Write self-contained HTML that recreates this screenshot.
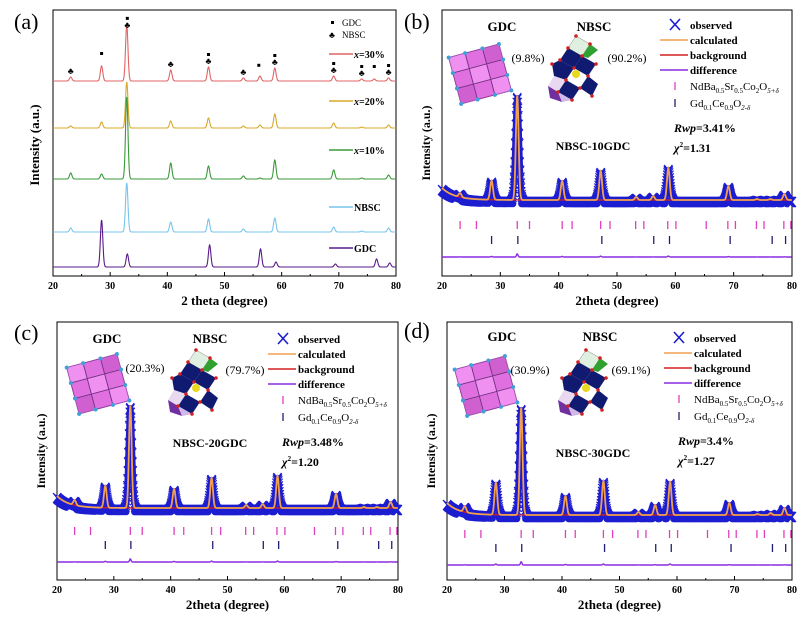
<!DOCTYPE html>
<html><head><meta charset="utf-8">
<style>
html,body{margin:0;padding:0;background:#fff;}
svg{display:block;font-family:"Liberation Serif",serif;}
.b{font-weight:bold;}
</style></head>
<body>
<svg id="fig" width="800" height="624" viewBox="0 0 800 624" xmlns="http://www.w3.org/2000/svg">
<defs>
<g id="gdc-struct">
  <g transform="rotate(-15 28 26)">
    <rect x="2" y="2" width="52" height="48" fill="#e070e0" stroke="#9040a0" stroke-width="1"/>
    <rect x="2" y="2" width="17" height="16" fill="#f090f0" stroke="#a050b0" stroke-width="0.8"/>
    <rect x="19" y="18" width="18" height="16" fill="#f090f0" stroke="#a050b0" stroke-width="0.8"/>
    <rect x="37" y="2" width="17" height="16" fill="#d060d0" stroke="#a050b0" stroke-width="0.8"/>
    <rect x="2" y="34" width="17" height="16" fill="#d060d0" stroke="#a050b0" stroke-width="0.8"/>
    <rect x="37" y="34" width="17" height="16" fill="#f090f0" stroke="#a050b0" stroke-width="0.8"/>
    <line x1="19" y1="2" x2="19" y2="50" stroke="#703080" stroke-width="0.8"/>
    <line x1="37" y1="2" x2="37" y2="50" stroke="#703080" stroke-width="0.8"/>
    <line x1="2" y1="18" x2="54" y2="18" stroke="#703080" stroke-width="0.8"/>
    <line x1="2" y1="34" x2="54" y2="34" stroke="#703080" stroke-width="0.8"/>
    <g fill="#40a0d8">
      <circle cx="2" cy="2" r="2"/><circle cx="19" cy="2" r="2"/><circle cx="37" cy="2" r="2"/><circle cx="54" cy="2" r="2"/>
      <circle cx="2" cy="18" r="2"/><circle cx="54" cy="18" r="2"/><circle cx="2" cy="34" r="2"/><circle cx="54" cy="34" r="2"/>
      <circle cx="2" cy="50" r="2"/><circle cx="19" cy="50" r="2"/><circle cx="37" cy="50" r="2"/><circle cx="54" cy="50" r="2"/>
    </g>
  </g>
</g>
<g id="nbsc-struct">
  <polygon points="28,0 42,8 34,20 20,12" fill="#e0f0e0" stroke="#888" stroke-width="0.5"/>
  <polygon points="42,8 50,14 40,22 34,20" fill="#30a030"/>
  <polygon points="20,12 34,20 26,32 12,24" fill="#101a70"/>
  <polygon points="34,20 48,28 40,40 26,32" fill="#101a70"/>
  <polygon points="4,28 12,24 26,32 18,44 6,40" fill="#101a70"/>
  <polygon points="18,44 32,52 24,64 10,56" fill="#101a70"/>
  <polygon points="32,52 40,40 50,48 44,60" fill="#101a70"/>
  <polygon points="6,40 18,44 10,56 0,50" fill="#e8d8f0"/>
  <polygon points="0,50 10,56 14,66 2,62" fill="#7030a0"/>
  <polygon points="10,56 24,64 14,66" fill="#d0b8e8"/>
  <circle cx="28" cy="38" r="4" fill="#e8d820"/>
  <g fill="#d02020"><circle cx="20" cy="12" r="1.8"/><circle cx="34" cy="20" r="1.8"/><circle cx="26" cy="32" r="1.8"/><circle cx="12" cy="24" r="1.8"/><circle cx="48" cy="28" r="1.8"/><circle cx="40" cy="40" r="1.8"/><circle cx="18" cy="44" r="1.8"/><circle cx="32" cy="52" r="1.8"/><circle cx="10" cy="56" r="1.8"/><circle cx="24" cy="64" r="1.8"/><circle cx="44" cy="60" r="1.8"/><circle cx="4" cy="28" r="1.8"/><circle cx="42" cy="8" r="1.8"/><circle cx="28" cy="0" r="1.8"/></g>
</g>
</defs>
</svg>
<script>
// ---------- DATA ----------
const aPeaks30 = [23.1, 28.5, 32.9, 40.6, 47.2, 53.3, 56.2, 58.8, 69.1, 74.0, 76.2, 78.7];
const aHeights30 = [4, 15, 56, 11, 14, 3, 5, 13, 5, 2, 2, 3];
const aPeaks20 = [23.1, 28.5, 32.9, 40.6, 47.2, 53.3, 56.2, 58.8, 69.1, 74.0, 78.7];
const aHeights20 = [2, 6, 46, 7, 10, 2, 3, 14, 5, 1, 3];
const aPeaks10 = [23.1, 28.5, 32.9, 40.6, 47.2, 53.3, 56.2, 58.8, 69.1, 74.0, 78.7];
const aHeights10 = [6, 5, 82, 16, 13, 3, 1, 19, 9, 1, 4];
const aPeaksNBSC = [23.1, 32.9, 40.6, 47.2, 53.3, 58.8, 69.1, 74.0, 78.7];
const aHeightsNBSC = [4, 49, 10, 13, 3, 14, 5, 1, 4];
const aPeaksGDC = [28.5, 33.0, 47.4, 56.3, 59.0, 69.4, 76.6, 78.9];
const aHeightsGDC = [47, 13, 22, 18, 5, 3, 8, 4];
const aLabels = ["x=30%", "x=20%", "x=10%", "NBSC", "GDC"];
const gdcMarkPos = [28.5, 33.0, 47.2, 56.0, 58.8, 69.1, 74.0, 76.2, 78.7];
const nbscMarkPos = [23.1, 33.0, 40.6, 47.2, 53.3, 58.8, 69.1, 74.0, 78.7];

const nbscRefl = [23.1, 25.9, 32.9, 35.0, 40.6, 42.3, 47.2, 48.8, 53.2, 54.6, 58.7, 60.1, 65.3, 69.0, 70.3, 73.9, 75.2, 78.6, 79.8];
const gdcRefl = [28.5, 33.0, 47.4, 56.3, 59.0, 69.4, 76.6, 78.9];
const rietPeaks = [23.1, 28.5, 32.9, 40.6, 47.2, 53.3, 56.2, 58.8, 69.1, 74.0, 76.3, 78.7];
const bHeights = [4, 19, 104, 19, 29, 3, 4, 32, 14, 1, 1, 6];
const cHeights = [5, 22, 102, 19, 30, 3, 4, 32, 14, 1, 1, 6];
const dHeights = [6, 32, 107, 19, 34, 3, 10, 33, 12, 1, 2, 7];
const rietNames = ["NBSC-10GDC", "NBSC-20GDC", "NBSC-30GDC"];
const rwpVals = ["3.41%", "3.48%", "3.4%"];
const chiVals = ["1.31", "1.20", "1.27"];
const gdcFrac = ["(9.8%)", "(20.3%)", "(30.9%)"];
const nbscFrac = ["(90.2%)", "(79.7%)", "(69.1%)"];
const xTicks = [20, 30, 40, 50, 60, 70, 80];

// ---------- DRAW ----------
const NS = "http://www.w3.org/2000/svg";
const svg = document.getElementById("fig");
function el(tag, attrs, parent, text) {
  const e = document.createElementNS(NS, tag);
  for (const k in attrs) e.setAttribute(k, attrs[k]);
  if (text !== undefined) e.textContent = text;
  (parent || svg).appendChild(e);
  return e;
}
function prof(peaks, heights, t, w) {
  let s = 0;
  for (let i = 0; i < peaks.length; i++) {
    const d = (t - peaks[i]) / w;
    s += heights[i] * Math.exp(-d * d * 0.693);
  }
  return s;
}
function axes(g, L, R, T, B, title) {
  const xs = v => L + (v - 20) / 60 * (R - L);
  el("rect", {x: L, y: T, width: R - L, height: B - T, fill: "none", stroke: "#000", "stroke-width": 1}, g);
  for (let v = 20; v <= 80; v += 5) {
    const tk = el("line", {x1: xs(v), x2: xs(v), y1: B, y2: B - (v % 10 === 0 ? 4 : 2), stroke: "#000", "stroke-width": 1}, g);
    
    
  }
  xTicks.forEach(v => {
    const t = el("text", {x: xs(v), y: B + 13, "text-anchor": "middle", "font-size": 10, class: "b"}, g, String(v));
    
    
  });
  const xt = el("text", {x: (L + R) / 2, y: B + 29, "text-anchor": "middle", "font-size": 13, class: "b"}, g, title);
  
  
  return xs;
}

// Panel (a)
(function () {
  const g = el("g", {});
  
  
  const L = 53, R = 396, T = 10, B = 276;
  const xs = axes(g, L, R, T, B, "2 theta (degree)");
  el("text", {x: 14, y: 29, "font-size": 22}, g, "(a)");
  const yl = el("text", {transform: `translate(39,145) rotate(-90)`, "text-anchor": "middle", "font-size": 13, class: "b"}, g, "Intensity (a.u.)");
  
  
  const sets = [
    [aPeaks30, aHeights30, 81, "#e06464", 54],
    [aPeaks20, aHeights20, 128, "#d8a82a", 101],
    [aPeaks10, aHeights10, 179, "#3a9a3a", 150],
    [aPeaksNBSC, aHeightsNBSC, 232, "#78c4ec", 207],
    [aPeaksGDC, aHeightsGDC, 267, "#5a1a8a", 248]
  ];
  sets.forEach((s, i) => {
    let d = "";
    for (let t = 20; t <= 80; t += 0.05) {
      const y = s[2] - prof(s[0], s[1], t, 0.25);
      d += (d ? "L" : "M") + xs(t).toFixed(2) + "," + y.toFixed(2);
    }
    const p = el("path", {d: d, fill: "none", stroke: s[3], "stroke-width": 1.1}, g);
    
    
    const ll = el("line", {x1: 329, x2: 353, y1: s[4], y2: s[4], stroke: s[3], "stroke-width": 1.5}, g);
    
    
    const lab = aLabels[i];
    const tx = el("text", {x: 354, y: s[4] + 4, "font-size": 10, class: "b"}, g);
    
    
    if (lab.startsWith("x=")) {
      el("tspan", {"font-style": "italic"}, tx, "x");
      el("tspan", {}, tx, lab.slice(1));
    } else tx.textContent = lab;
  });
  gdcMarkPos.forEach(v => {
    const h = prof(aPeaks30, aHeights30, v, 0.25);
    const c = el("rect", {x: xs(v) - 1.5, y: 81 - h - 14, width: 3, height: 3, fill: "#000"}, g);
    
    
  });
  nbscMarkPos.forEach(v => {
    const h = prof(aPeaks30, aHeights30, v, 0.25);
    const c = el("text", {x: xs(v), y: 81 - h - 3, "text-anchor": "middle", "font-size": 9}, g, "♣");
    
    
  });
  el("rect", {x: 331, y: 21, width: 3, height: 3, fill: "#000"}, g);
  el("text", {x: 342, y: 26, "font-size": 9}, g, "GDC");
  el("text", {x: 332, y: 38, "font-size": 9, "text-anchor": "middle"}, g, "♣");
  el("text", {x: 342, y: 38, "font-size": 9}, g, "NBSC");
})();

function riet(idx, opt, heights) {
  const g = el("g", {});
  
  
  const {L, R, T, B, base, pinkY, navyY, diffY} = opt;
  const xs = axes(g, L, R, T, B, "2theta (degree)");
  el("text", {x: opt.lx, y: opt.ly, "font-size": 22}, g, "(" + opt.lab + ")");
  const yl = el("text", {transform: `translate(${L - 12},${(T + B) / 2}) rotate(-90)`, "text-anchor": "middle", "font-size": 12, class: "b"}, g, "Intensity (a.u.)");
  
  
  const bg = t => base - 12 * Math.exp(-(t - 20) / 2.2);
  const obs = el("g", {stroke: "#1c1cd0", fill: "none"}, g);
  
  
  let od = "", xd = "";
  for (let t = 20; t <= 80; t += 0.05) {
    const x = xs(t), y = bg(t) + 2 - prof(rietPeaks, heights, t, 0.38);
    od += (od ? "L" : "M") + x.toFixed(1) + "," + y.toFixed(1);
    xd += `M${(x - 4).toFixed(1)},${(y - 5).toFixed(1)}L${(x + 4).toFixed(1)},${(y + 5).toFixed(1)}M${(x - 4).toFixed(1)},${(y + 5).toFixed(1)}L${(x + 4).toFixed(1)},${(y - 5).toFixed(1)}`;
  }
  el("path", {d: od, "stroke-width": 6, "stroke-linejoin": "round"}, obs);
  el("path", {d: xd, "stroke-width": 1.1}, obs);
  let cd = "", bd = "", dd = "";
  for (let t = 20; t <= 80; t += 0.04) {
    const x = xs(t).toFixed(2);
    cd += (cd ? "L" : "M") + x + "," + (bg(t) - prof(rietPeaks, heights, t, 0.28)).toFixed(2);
    bd += (bd ? "L" : "M") + x + "," + bg(t).toFixed(2);
    dd += (dd ? "L" : "M") + x + "," + (diffY - prof(rietPeaks, heights, t, 0.15) * 0.03).toFixed(2);
  }
  const bl = el("path", {d: bd, fill: "none", stroke: "#d42020", "stroke-width": 1.2}, g);
  
  
  const cl = el("path", {d: cd, fill: "none", stroke: "#f0a050", "stroke-width": 1.8}, g);
  
  
  const dl = el("path", {d: dd, fill: "none", stroke: "#8a2be2", "stroke-width": 1.4}, g);
  
  
  nbscRefl.forEach(v => {
    const m = el("line", {x1: xs(v), x2: xs(v), y1: pinkY - 4, y2: pinkY + 4, stroke: "#e040c0", "stroke-width": 1.3}, g);
    
    
  });
  gdcRefl.forEach(v => {
    const m = el("line", {x1: xs(v), x2: xs(v), y1: navyY - 4, y2: navyY + 4, stroke: "#202070", "stroke-width": 1.3}, g);
    
    
  });
  el("use", {href: "#gdc-struct", transform: `translate(${opt.gx},${opt.gy})`}, g);
  el("use", {href: "#nbsc-struct", transform: `translate(${opt.nx},${opt.ny})`}, g);
  el("text", {x: opt.gtx, y: opt.ty, "text-anchor": "middle", "font-size": 13, class: "b"}, g, "GDC");
  el("text", {x: opt.ntx, y: opt.ty, "text-anchor": "middle", "font-size": 13, class: "b"}, g, "NBSC");
  el("text", {x: opt.gfx, y: opt.fy, "text-anchor": "middle", "font-size": 12}, g, gdcFrac[idx]);
  el("text", {x: opt.nfx, y: opt.fy2, "text-anchor": "middle", "font-size": 12}, g, nbscFrac[idx]);
  el("text", {x: opt.nmx, y: opt.nmy, "text-anchor": "middle", "font-size": 12, class: "b"}, g, rietNames[idx]);
  const lx = opt.legx, ly = opt.legy, sp = 15;
  const lg = el("g", {}, g);
  
  
  el("path", {d: `M${lx + 8},${ly - 6}l10,11M${lx + 8},${ly + 5}l10,-11`, stroke: "#1c1cd0", "stroke-width": 1.6}, lg);
  el("text", {x: lx + 28, y: ly + 4, "font-size": 11, class: "b"}, lg, "observed");
  const rows = [["#f0a050", "calculated"], ["#d42020", "background"], ["#8a2be2", "difference"]];
  rows.forEach((r, i) => {
    const y = ly + sp * (i + 1);
    el("line", {x1: lx - 2, x2: lx + 26, y1: y, y2: y, stroke: r[0], "stroke-width": 1.6}, lg);
    el("text", {x: lx + 28, y: y + 4, "font-size": 11, class: "b"}, lg, r[1]);
  });
  let y = ly + sp * 4 + 1;
  el("line", {x1: lx + 13, x2: lx + 13, y1: y - 4, y2: y + 4, stroke: "#e040c0", "stroke-width": 1.3}, lg);
  let t = el("text", {x: lx + 28, y: y + 4, "font-size": 11}, lg);
  
  
  t.innerHTML = 'NdBa<tspan font-size="7" dy="3">0.5</tspan><tspan dy="-3">Sr</tspan><tspan font-size="7" dy="3">0.5</tspan><tspan dy="-3">Co</tspan><tspan font-size="7" dy="3">2</tspan><tspan dy="-3">O</tspan><tspan font-size="7" dy="3" font-style="italic">5+δ</tspan>';
  y = ly + sp * 5 + 3;
  el("line", {x1: lx + 13, x2: lx + 13, y1: y - 4, y2: y + 4, stroke: "#202070", "stroke-width": 1.3}, lg);
  t = el("text", {x: lx + 28, y: y + 4, "font-size": 11}, lg);
  
  
  t.innerHTML = 'Gd<tspan font-size="7" dy="3">0.1</tspan><tspan dy="-3">Ce</tspan><tspan font-size="7" dy="3">0.9</tspan><tspan dy="-3">O</tspan><tspan font-size="7" dy="3" font-style="italic">2-δ</tspan>';
  t = el("text", {x: lx + 12, y: ly + 107, "font-size": 12, class: "b"}, g);
  
  
  t.innerHTML = '<tspan font-style="italic">Rwp</tspan>=' + rwpVals[idx];
  t = el("text", {x: lx + 12, y: ly + 127, "font-size": 12, class: "b"}, g);
  
  
  t.innerHTML = '<tspan font-style="italic">χ</tspan><tspan font-size="7" dy="-5">2</tspan><tspan dy="5">=' + chiVals[idx] + '</tspan>';
}
riet(0, {lab: "b", L: 442, R: 792, T: 10, B: 276, base: 200, pinkY: 225, navyY: 240, diffY: 257, lx: 404, ly: 29,
  gx: 452, gy: 48, nx: 548, ny: 36, gtx: 502, ntx: 594, ty: 31, gfx: 528, fy: 62, nfx: 627, fy2: 62, nmx: 593, nmy: 150, legx: 662, legy: 25}, bHeights);
riet(1, {lab: "c", L: 57, R: 398, T: 322, B: 580, base: 508, pinkY: 531, navyY: 545, diffY: 562, lx: 14, ly: 340,
  gx: 70, gy: 358, nx: 168, ny: 350, gtx: 107, ntx: 210, ty: 343, gfx: 145, fy: 372, nfx: 245, fy2: 374, nmx: 210, nmy: 447, legx: 270, legy: 339}, cHeights);
riet(2, {lab: "d", L: 447, R: 792, T: 322, B: 580, base: 515, pinkY: 534, navyY: 548, diffY: 565, lx: 404, ly: 338,
  gx: 458, gy: 360, nx: 558, ny: 350, gtx: 502, ntx: 600, ty: 341, gfx: 530, fy: 374, nfx: 631, fy2: 374, nmx: 593, nmy: 457, legx: 666, legy: 338}, dHeights);
</script>
</body></html>
